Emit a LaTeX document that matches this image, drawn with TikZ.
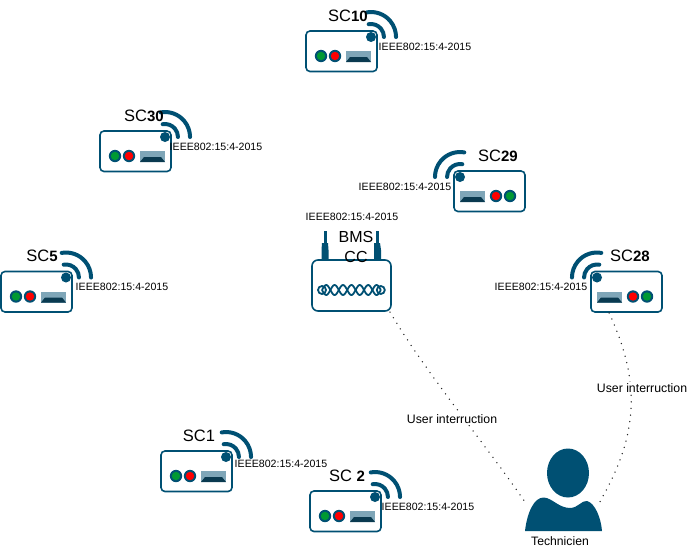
\documentclass[tikz,border=0pt]{standalone}
\usepackage{fontspec}
\usetikzlibrary{shapes.geometric}
\setmainfont{Liberation Sans}
\definecolor{mainblue}{HTML}{005073}
\definecolor{ledgreen}{HTML}{009933}
\definecolor{ledred}{HTML}{FF0000}
\definecolor{btnlight}{HTML}{7FA6B8}
\definecolor{btndark}{HTML}{0A3A50}
\newcommand{\sclabel}[2]{{\fontsize{16.5}{18}\selectfont #1}{\fontsize{15}{18}\selectfont\bfseries #2}}
\tikzset{
  x=1pt,y=-1pt,
  devbox/.style={draw=mainblue,line width=1.6pt,rounded corners=4pt,fill=white,minimum width=71pt,minimum height=40.5pt,inner sep=0pt,outer sep=0pt},
  wave/.style={draw=mainblue,line width=4pt,line cap=round},
  stdlabel/.style={inner sep=0pt,font=\fontsize{10.6}{12}\selectfont},
  titlelabel/.style={inner sep=0pt},
  userlabel/.style={fill=white,inner sep=1pt,font=\fontsize{12.3}{14}\selectfont},
  dotline/.style={line width=1.5pt,line cap=round,dash pattern=on 0pt off 6.6pt,black!85},
  sensor/.pic={
    \node[devbox] (-box) at (35.5,20.25) {};
    \fill[mainblue] (65,6) circle (5pt);
    \draw[wave] (62.7,-6.8) arc[start angle=100,end angle=0,radius=13pt];
    \draw[wave] (60.7,-18.6) arc[start angle=100,end angle=0,radius=25pt];
    \fill[mainblue] (15,25) circle (6.2pt);
    \fill[ledgreen] (15,25) circle (4.2pt);
    \fill[mainblue] (29,25) circle (6.2pt);
    \fill[ledred] (29,25) circle (4.2pt);
    \fill[btnlight] (40,20) rectangle (65,31);
    \fill[btndark] (40,31) -- (44,26) -- (61,26) -- (65,31) -- cycle;
  }
}
\begin{document}
\begin{tikzpicture}
\useasboundingbox (0,0) rectangle (688,557);
% sensors
\pic (sc10) at (306,31) {sensor};
\pic (sc30) at (100,131) {sensor};
\pic (sc5) at (1,271.5) {sensor};
\pic (sc1) at (161,451) {sensor};
\pic (sc2) at (310,491) {sensor};
\pic[xscale=-1] (sc29) at (525,171) {sensor};
\pic[xscale=-1] (sc28) at (662,271.5) {sensor};
% sensor names
\node[titlelabel] (t10) at (348,16) {\sclabel{SC}{10}};
\node[titlelabel] (t30) at (144,116) {\sclabel{SC}{30}};
\node[titlelabel] (t29) at (498,156) {\sclabel{SC}{29}};
\node[titlelabel] (t5) at (42,256) {\sclabel{SC}{5}};
\node[titlelabel] (t28) at (630,256) {\sclabel{SC}{28}};
\node[titlelabel] (t1) at (199,436) {\fontsize{16.5}{18}\selectfont SC1};
\node[titlelabel] (t2) at (347,476) {\sclabel{SC }{2}};
% protocol
\node[stdlabel] (p10) at (425,47) {IEEE802:15:4-2015};
\node[stdlabel] (p30) at (216,147) {IEEE802:15:4-2015};
\node[stdlabel] (p29) at (405,187) {IEEE802:15:4-2015};
\node[stdlabel] (pcc) at (352,217) {IEEE802:15:4-2015};
\node[stdlabel] (p5) at (122,287) {IEEE802:15:4-2015};
\node[stdlabel] (p28) at (541,287) {IEEE802:15:4-2015};
\node[stdlabel] (p1) at (281,464) {IEEE802:15:4-2015};
\node[stdlabel] (p2) at (428,507) {IEEE802:15:4-2015};
% router
\fill[mainblue] (323.5,231) rectangle (326.5,243);
\fill[mainblue] (375.5,231) rectangle (378.5,243);
\fill[mainblue] (322,243) -- (328,243) -- (328.5,250) -- (328.5,261) -- (321.5,261) -- (321.5,250) -- cycle;
\fill[mainblue] (374,243) -- (380,243) -- (381,250) -- (381,261) -- (374,261) -- (374,250) -- cycle;
\node[devbox,minimum width=79pt,minimum height=51pt,rounded corners=6pt] (cc) at (351.5,285.5) {};
\draw[mainblue,line width=1.8pt,domain=0:7,samples=71,smooth] plot ({322+8.4*\x},{290+5*sin(180*\x)});
\draw[mainblue,line width=1.8pt,domain=0:7,samples=71,smooth] plot ({322+8.4*\x},{290-5*sin(180*\x)});
\draw[mainblue,line width=1.8pt] (322,290) circle (4pt);
\draw[mainblue,line width=1.8pt] (380.8,290) circle (4pt);
\node[titlelabel,align=center,font=\fontsize{16}{20}\selectfont] (cctext) at (356,247) {BMS\\CC};
% technician
\node[fill=mainblue,ellipse,minimum width=42pt,minimum height=49pt,inner sep=0pt,outer sep=0pt] (head) at (568,473) {};
\fill[mainblue] (525,531) .. controls (527,513) and (534,497) .. (544,497.5)
  .. controls (552,498) and (559,508) .. (570,508)
  .. controls (578,508) and (582,500) .. (587,501)
  .. controls (595,503) and (601,518) .. (602,531) -- cycle;
\node[inner sep=0pt,font=\fontsize{12.2}{14}\selectfont] (tech) at (560,541) {Technicien};
\coordinate (tl) at (527,505);
\coordinate (tr) at (598,505);
% connectors
\draw[dotline] (cc.south east) ++(-1,1) .. controls (425,372) and (490,450) .. (tl);
\draw[dotline] (sc28-box.south) ++(-17.5,1) .. controls (648,395) and (630,450) .. (tr);
\node[userlabel] (u1) at (452,419) {User interruction};
\node[userlabel] (u2) at (642,388) {User interruction};
\end{tikzpicture}
\end{document}
